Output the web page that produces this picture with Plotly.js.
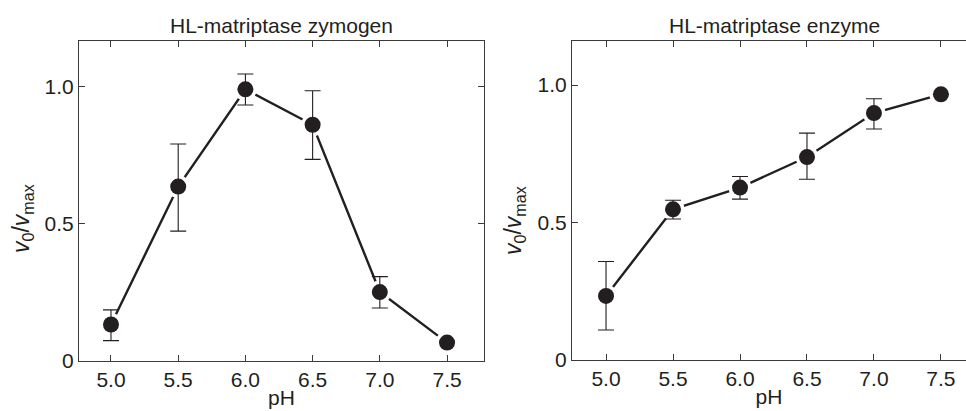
<!DOCTYPE html>
<html>
<head>
<meta charset="utf-8">
<script src="https://cdn.plot.ly/plotly-3.0.1.min.js"></script>
<style>html,body{margin:0;padding:0;background:#fff;}#chart{width:966px;height:411px;}</style>
</head>
<body>
<div id="chart"></div>
<script>
// pH values
const pH = [5.0, 5.5, 6.0, 6.5, 7.0, 7.5];

// HL-matriptase zymogen: v0/vmax, error bar top and bottom
const zymogen = [0.133, 0.635, 0.989, 0.860, 0.251, 0.067];
const zymogenHi = [0.186, 0.790, 1.045, 0.984, 0.307, null];
const zymogenLo = [0.074, 0.473, 0.932, 0.734, 0.193, null];

// HL-matriptase enzyme
const enzyme = [0.233, 0.548, 0.627, 0.738, 0.898, 0.966];
const enzymeHi = [0.358, 0.581, 0.667, 0.825, 0.950, null];
const enzymeLo = [0.109, 0.513, 0.585, 0.657, 0.840, null];

const xTicks = [5.0, 5.5, 6.0, 6.5, 7.0, 7.5];
const xTickText = ['5.0', '5.5', '6.0', '6.5', '7.0', '7.5'];
const yTicks = [0, 0.5, 1.0];
const yTickText = ['0', '0.5', '1.0'];

const panelTitles = ['HL-matriptase zymogen', 'HL-matriptase enzyme'];
const xTitle = 'pH';
const yTitle = '<i>v</i><sub>0</sub>/<i>v</i><sub>max</sub>';

const ink = '#231f20';
const FONT = 'Liberation Sans, Arial, Helvetica, sans-serif';

function plus(hi, y) { return hi.map((h, i) => h == null ? 0 : h - y[i]); }
function minus(lo, y) { return lo.map((l, i) => l == null ? 0 : y[i] - l); }

function panel(y, hi, lo, xa, ya) {
  return [
    { x: pH, y: y, xaxis: xa, yaxis: ya, type: 'scatter', mode: 'lines',
      line: { color: ink, width: 2.4 }, hoverinfo: 'skip', showlegend: false },
    { x: pH, y: y, xaxis: xa, yaxis: ya, type: 'scatter', mode: 'markers',
      marker: { color: '#ffffff', size: 23, line: { width: 0 } }, hoverinfo: 'skip', showlegend: false },
    { x: pH, y: y, xaxis: xa, yaxis: ya, type: 'scatter', mode: 'markers',
      marker: { color: ink, size: 16, line: { width: 0 } },
      error_y: { type: 'data', symmetric: false, array: plus(hi, y), arrayminus: minus(lo, y),
                 color: ink, thickness: 1.1, width: 8 },
      showlegend: false }
  ];
}

const data = [].concat(
  panel(zymogen, zymogenHi, zymogenLo, 'x', 'y'),
  panel(enzyme, enzymeHi, enzymeLo, 'x2', 'y2')
);

function axisBase() {
  return {
    showgrid: false, zeroline: false, showline: true, linecolor: '#3a3a3a', linewidth: 1,
    ticks: 'inside', ticklen: 6, tickwidth: 1, tickcolor: '#3a3a3a',
    tickfont: { family: FONT, size: 21, color: ink }, fixedrange: true
  };
}

const titleFont = { family: FONT, size: 21, color: ink };
const yTitleFont = { family: FONT, size: 23, color: ink };

const layout = {
  width: 966, height: 411,
  margin: { l: 0, r: 0, t: 0, b: 0 },
  paper_bgcolor: '#ffffff', plot_bgcolor: '#ffffff',
  font: { family: FONT, size: 21, color: ink },
  showlegend: false,
  xaxis: Object.assign(axisBase(), {
    domain: [79 / 966, 484 / 966], range: [4.762, 7.775],
    tickvals: xTicks, ticktext: xTickText, mirror: 'ticks', anchor: 'y',
    title: { text: xTitle, font: titleFont, standoff: 0 }
  }),
  yaxis: Object.assign(axisBase(), {
    domain: [50 / 411, 370 / 411], range: [0, 1.165],
    tickvals: yTicks, ticktext: yTickText, mirror: 'ticks', anchor: 'x'
  }),
  xaxis2: Object.assign(axisBase(), {
    domain: [572 / 966, 1], range: [4.746, 7.687],
    tickvals: xTicks, ticktext: xTickText, mirror: 'ticks', anchor: 'y2',
    title: { text: xTitle, font: titleFont, standoff: 0 }
  }),
  yaxis2: Object.assign(axisBase(), {
    domain: [51 / 411, 370 / 411], range: [0, 1.16],
    tickvals: yTicks, ticktext: yTickText, mirror: false, anchor: 'x2'
  }),
  annotations: [
    { text: panelTitles[0], xref: 'paper', yref: 'paper', x: 281 / 966, y: 1 - 25 / 411,
      xanchor: 'center', yanchor: 'middle', showarrow: false, font: titleFont },
    { text: panelTitles[1], xref: 'paper', yref: 'paper', x: 774 / 966, y: 1 - 25 / 411,
      xanchor: 'center', yanchor: 'middle', showarrow: false, font: titleFont },
    { text: yTitle, xref: 'paper', yref: 'paper', x: 22 / 966, y: 1 - 219 / 411, textangle: -90,
      xanchor: 'center', yanchor: 'middle', showarrow: false, font: yTitleFont },
    { text: yTitle, xref: 'paper', yref: 'paper', x: 514 / 966, y: 1 - 221 / 411, textangle: -90,
      xanchor: 'center', yanchor: 'middle', showarrow: false, font: yTitleFont }
  ]
};

Plotly.newPlot('chart', data, layout, { displayModeBar: false, staticPlot: true });
</script>
</body>
</html>
